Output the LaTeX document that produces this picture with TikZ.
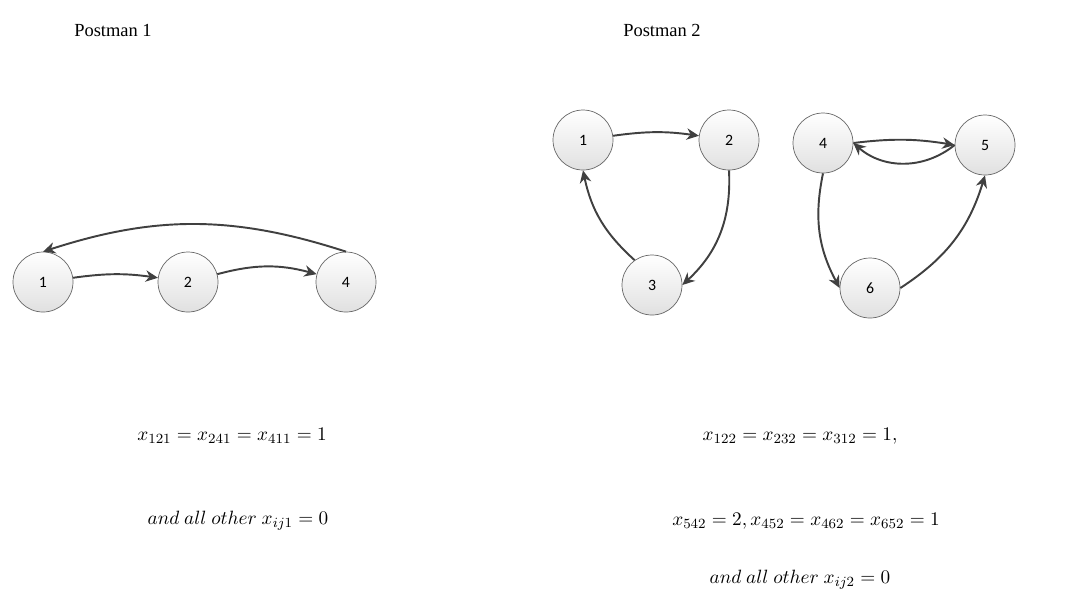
\documentclass[tikz,border=0pt]{standalone}
\usepackage{fontspec}
\setmainfont{Liberation Serif}
\newfontfamily\numfont{Carlito}
\usetikzlibrary{arrows.meta}
\tikzset{
  vertex/.style={circle, draw=black!60, thin, top color=white, bottom color=black!12,
    minimum size=60*0.02cm, inner sep=0pt, font=\numfont\fontsize{9}{10}\selectfont},
  route/.style={draw=black!75, line width=1.1pt, -{Stealth[length=7pt,width=6.5pt]}},
  title/.style={font=\fontsize{10.5}{12}\selectfont},
  eqn/.style={font=\fontsize{11}{13}\selectfont}
}
\begin{document}
\begin{tikzpicture}[x=0.02cm, y=-0.02cm]
	\useasboundingbox (0,0) rectangle (1071,600);
	\node[title] (t1) at (113,30) {Postman 1};
	\node[title] (t2) at (662,30) {Postman 2};
	% postman 1
	\foreach \n/\x/\y in {1/43/282, 2/188/282, 4/346/282}
		\node[vertex] (a\n) at (\x,\y) {\n};
	\draw[route] (a1) to[bend left=8] (a2);
	\draw[route] (a2) to[bend left=15] (a4);
	\draw[route] (a4.north) to[bend right=18] (a1.north);
	% postman 2
	\foreach \n/\x/\y in {1/583/140, 2/729/140, 3/652/285, 4/823/143, 5/985/145, 6/870/288}
		\node[vertex] (b\n) at (\x,\y) {\n};
	\draw[route] (b1) to[bend left=8] (b2);
	\draw[route] (b2.south) to[bend left=25] (b3.east);
	\draw[route] (b3.125) to[bend left=18] (b1.south);
	\draw[route] (b4.east) to[bend left=8] (b5.west);
	\draw[route] (b5.west) to[bend left=40] (b4.east);
	\draw[route] (b4.south) to[bend right=20] (b6.west);
	\draw[route] (b6.east) to[bend right=20] (b5.south);
	% values
	\node[eqn] (e1) at (232,436) {$x_{121}=x_{241}=x_{411}=1$};
	\node[eqn] (e2) at (238,521) {$and\ all\ other\ x_{ij1}=0$};
	\node[eqn] (e3) at (800,436) {$x_{122}=x_{232}=x_{312}=1,$};
	\node[eqn] (e4) at (806,521) {$x_{542}=2, x_{452}=x_{462}=x_{652}=1$};
	\node[eqn] (e5) at (800,580) {$and\ all\ other\ x_{ij2}=0$};
\end{tikzpicture}
\end{document}
